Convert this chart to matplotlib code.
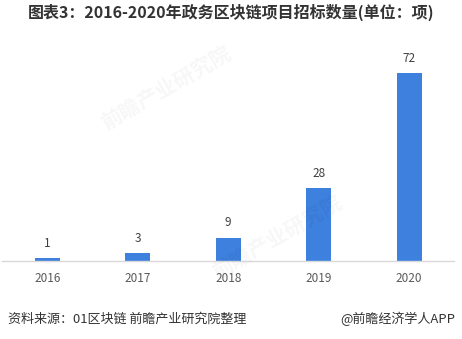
import matplotlib
matplotlib.use("Agg")
import matplotlib.pyplot as plt

plt.rcParams['font.family'] = ['Noto Sans CJK SC', 'DejaVu Sans']

years = ["2016", "2017", "2018", "2019", "2020"]
counts = [1, 3, 9, 28, 72]
title = "图表3：2016-2020年政务区块链项目招标数量(单位：项)"
source = "资料来源：01区块链 前瞻产业研究院整理"
brand = "@前瞻经济学人APP"

fig = plt.figure(figsize=(4.62, 3.39), dpi=100)
ax = fig.add_axes([0.0043, 0.2301, 0.9794, 0.6224])

x = list(range(len(years)))
bars = ax.bar(x, counts, width=0.28, color="#3d80de", zorder=2)
ax.set_xlim(-0.5, 4.5)
ax.set_ylim(0, 81)
ax.set_xticks(x)
ax.set_xticklabels(years, fontsize=8.5, color="#595959")
ax.tick_params(axis='x', length=0, pad=8)
ax.set_yticks([])
for s in ["top", "left", "right"]:
    ax.spines[s].set_visible(False)
ax.spines["bottom"].set_color("#d9d9d9")
ax.spines["bottom"].set_linewidth(1.0)

for xi, v in zip(x, counts):
    ax.annotate(str(v), (xi, v), xytext=(0, 6), textcoords="offset points",
                ha="center", va="bottom", fontsize=8.5, color="#404040")

# faint watermarks
for (wx, wy) in [(0.36, 0.74), (0.60, 0.30)]:
    fig.text(wx, wy, "前瞻产业研究院", fontsize=15, color="#000000", alpha=0.035,
             rotation=30, ha="center", va="center", fontweight="bold", zorder=0)

fig.text(0.5, 0.962, title, ha="center", va="center", fontsize=11.5,
         fontweight="bold", color="#333333")
fig.text(0.017, 0.059, source, ha="left", va="center", fontsize=9.4, color="#333333")
fig.text(0.985, 0.059, brand, ha="right", va="center", fontsize=9.4, color="#333333")

fig.savefig("out.png", dpi=100)
